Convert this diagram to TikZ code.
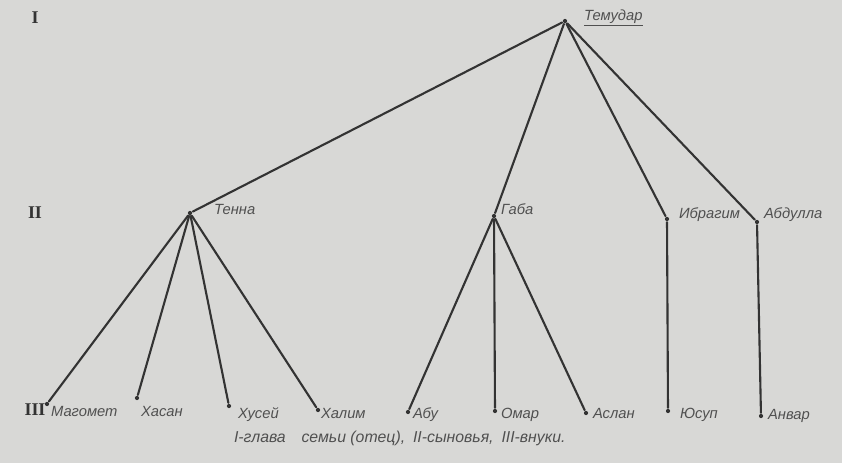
\documentclass[tikz,border=0pt]{standalone}
\usepackage{fontspec}
\setmainfont{Liberation Sans}
\newfontfamily\romanfont{Liberation Serif}
\usetikzlibrary{positioning}
\definecolor{cpaper}{HTML}{D8D8D6}
\definecolor{cline}{HTML}{333333}
\definecolor{ctext}{HTML}{505050}
\tikzset{
  every picture/.style={line width=2pt},
  dot/.style={circle, fill=cline, inner sep=0pt, minimum size=4pt},
  who/.style={font=\fontsize{14}{16}\selectfont\itshape, text=ctext, inner sep=0pt, anchor=base west},
  link/.style={draw=cline, line cap=round},
  gen/.style={font=\fontsize{17}{19}\selectfont\romanfont\bfseries, text=cline},
}

\begin{document}
\begin{tikzpicture}[x=1cm/30, y=-1cm/30]
  \fill[cpaper] (0,0) rectangle (842,463);
  \useasboundingbox (0,0) rectangle (842,463);

  \node[gen] (g1) at (35,18) {I};
  \node[gen] (g2) at (35,213) {II};
  \node[gen] (g3) at (35,410) {III};

  \node[dot] (temudar) at (565,21) {};
  \node[dot] (tenna) at (190,213) {};
  \node[dot] (gaba) at (494,216) {};
  \node[dot] (ibragim) at (667,219) {};
  \node[dot] (abdulla) at (757,222) {};
  \node[dot] (magomet) at (47,404) {};
  \node[dot] (hasan) at (137,398) {};
  \node[dot] (husey) at (229,406) {};
  \node[dot] (halim) at (318,410) {};
  \node[dot] (abu) at (408,412) {};
  \node[dot] (omar) at (495,411) {};
  \node[dot] (aslan) at (586,413) {};
  \node[dot] (yusup) at (668,411) {};
  \node[dot] (anvar) at (761,416) {};

  \node[who] (temudar-t) at (583,21) {\underline{Темудар}};
  \node[who] (tenna-t) at (213,215) {Тенна};
  \node[who] (gaba-t) at (500,215) {Габа};
  \node[who] (ibragim-t) at (678,219) {Ибрагим};
  \node[who] (abdulla-t) at (763,219) {Абдулла};
  \node[who] (magomet-t) at (50,416) {Магомет};
  \node[who] (hasan-t) at (140,416) {Хасан};
  \node[who] (husey-t) at (237,418) {Хусей};
  \node[who] (halim-t) at (320,418) {Халим};
  \node[who] (abu-t) at (412,418) {Абу};
  \node[who] (omar-t) at (500,418) {Омар};
  \node[who] (aslan-t) at (592,418) {Аслан};
  \node[who] (yusup-t) at (679,418) {Юсуп};
  \node[who] (anvar-t) at (767,419) {Анвар};
  \node[who, font=\fontsize{15}{17}\selectfont\itshape] (legend) at (233,442)
    {I-глава\quad семьи (отец),\enspace II-сыновья,\enspace III-внуки.};

  \foreach \a/\b in {temudar/tenna, temudar/gaba, temudar/ibragim, temudar/abdulla,
      tenna/magomet, tenna/hasan, tenna/husey, tenna/halim,
      gaba/abu, gaba/omar, gaba/aslan, ibragim/yusup, abdulla/anvar}
    \draw[link] (\a) -- (\b);
\end{tikzpicture}
\end{document}
